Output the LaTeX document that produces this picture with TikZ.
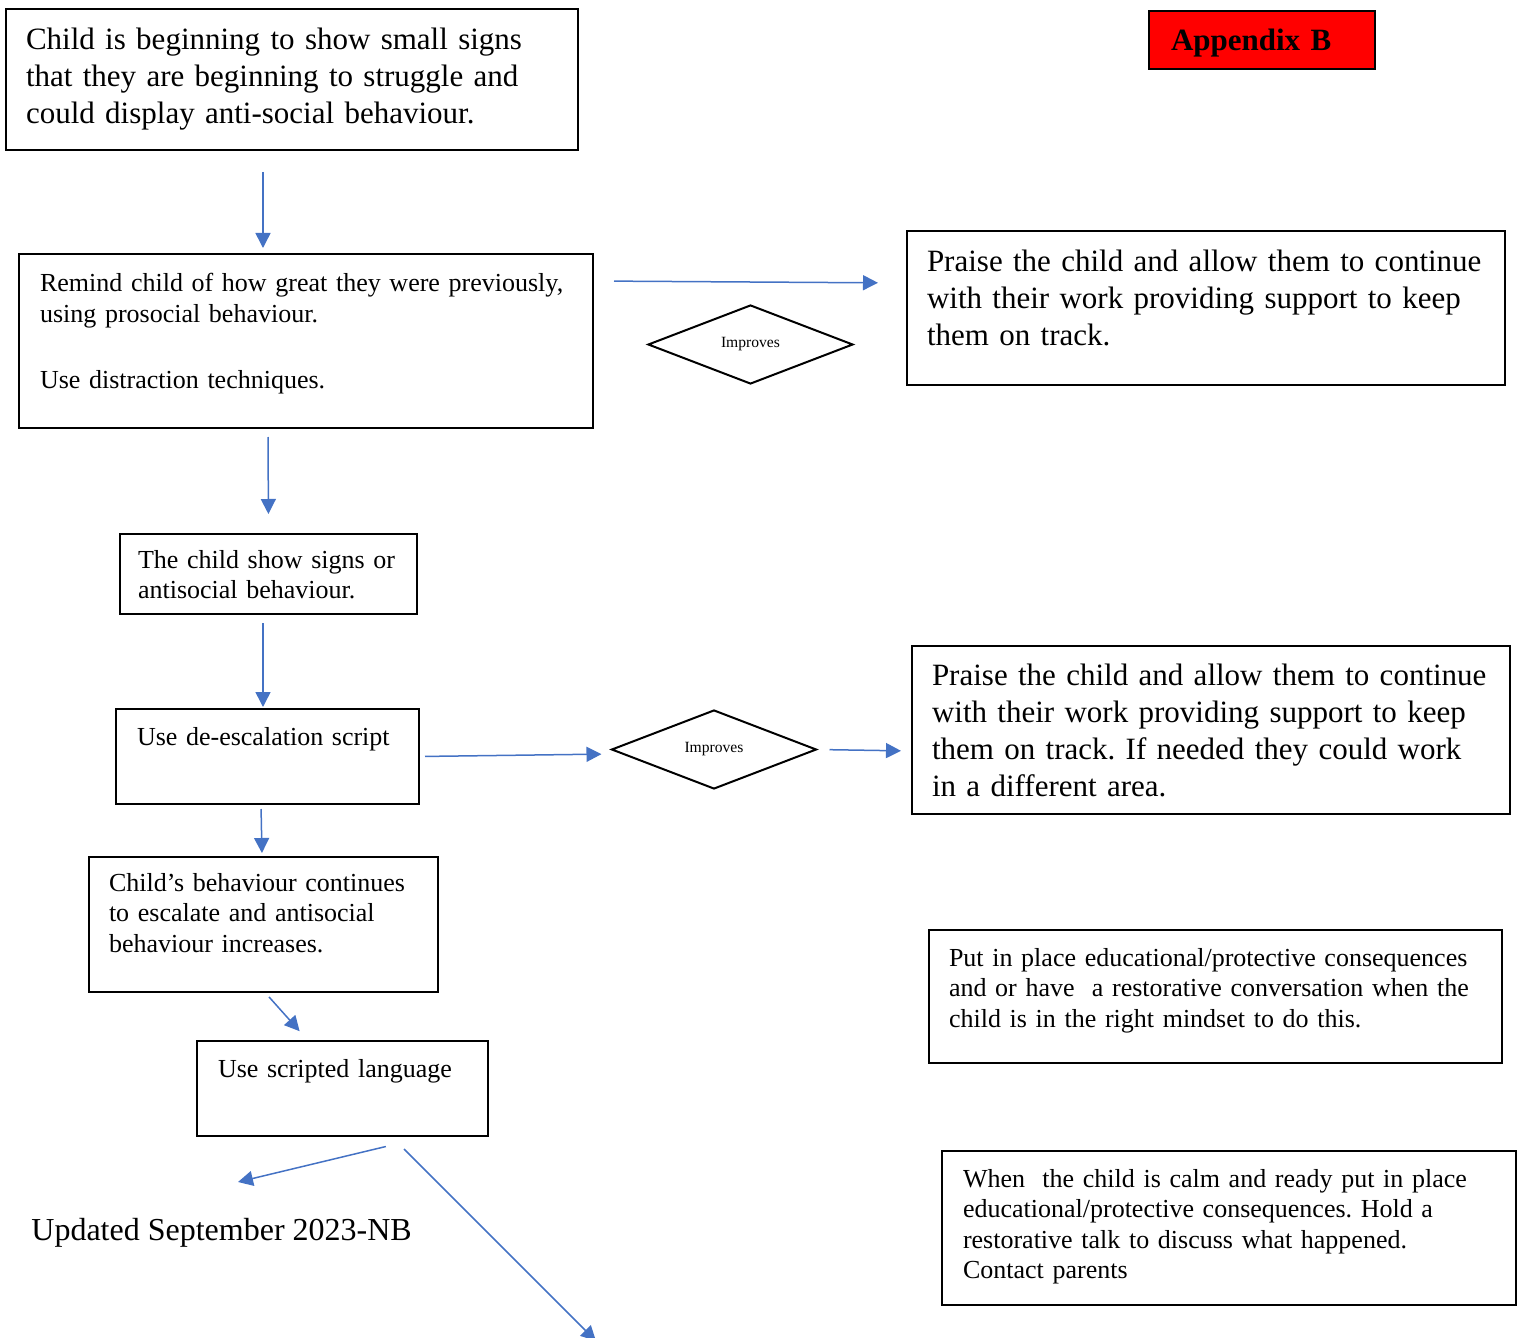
\documentclass[tikz,border=0pt]{standalone}
\usepackage{fontspec}
\setmainfont{Liberation Serif}
\usetikzlibrary{arrows.meta,shapes.geometric}
\definecolor{arrowblue}{HTML}{4472C4}
\definecolor{appxred}{HTML}{FF0000}
\frenchspacing

\begin{document}
\begin{tikzpicture}[x=0.5pt, y=-0.5pt,
	box/.style={draw, line width=1pt, anchor=north west, inner ysep=0pt, align=left, execute at begin node={\hyphenpenalty=10000\exhyphenpenalty=10000}},
	bigtext/.style={font=\fontsize{15.5pt}{18.5pt}\selectfont},
	midtext/.style={font=\fontsize{13pt}{15.25pt}\selectfont},
	decision/.style={draw, diamond, line width=1pt, inner sep=0pt, minimum width=102.5pt, minimum height=39.5pt, font=\fontsize{7.8pt}{9pt}\selectfont},
	flow/.style={draw=arrowblue, line width=0.75pt, -{Triangle[length=7.5pt,width=7.5pt]}}]
	\useasboundingbox (0,0) rectangle (1517,1338);
	\node[box, bigtext, inner xsep=10pt, text width=266pt, text height=20.5pt, text depth=50pt] (start) at (5,8) {Child is beginning to show small signs\\that they are beginning to struggle and\\could display anti-social behaviour.};
	\node[box, fill=appxred, inner xsep=11pt, text width=91pt, text height=20pt, text depth=9pt, font=\fontsize{15.5pt}{18.5pt}\selectfont\bfseries] (appx) at (1148,10) {Appendix B};
	\node[box, midtext, inner xsep=10.5pt, text width=266pt, text height=19pt, text depth=68pt] (remind) at (18,253) {Remind child of how great they were previously,\\using prosocial behaviour.\\[18pt]Use distraction techniques.};
	\node[box, bigtext, inner xsep=10pt, text width=279pt, text height=20pt, text depth=57pt] (praise1) at (906,230) {Praise the child and allow them to continue\\with their work providing support to keep\\them on track.};
	\node[decision] (d1) at (750.5,344.5) {Improves};
	\node[box, midtext, inner xsep=9pt, text width=130.5pt, text height=17pt, text depth=23pt] (signs) at (119,533) {The child show signs or\\antisocial behaviour.};
	\node[box, midtext, inner xsep=10.5pt, text width=130.5pt, text height=18pt, text depth=29.5pt] (deesc) at (115,708) {Use de-escalation script};
	\node[decision] (d2) at (714,749.5) {Improves};
	\node[box, bigtext, inner xsep=10pt, text width=279pt, text height=19.5pt, text depth=64.5pt] (praise2) at (911,645) {Praise the child and allow them to continue\\with their work providing support to keep\\them on track. If needed they could work\\in a different area.};
	\node[box, midtext, inner xsep=10pt, text width=154.5pt, text height=17pt, text depth=50.5pt] (behav) at (88,856) {Child’s behaviour continues\\to escalate and antisocial\\behaviour increases.};
	\node[box, midtext, inner xsep=10pt, text width=266.5pt, text height=18pt, text depth=48.5pt] (conseq) at (928,929) {Put in place educational/protective consequences\\and or have\ \ a restorative conversation when the\\child is in the right mindset to do this.};
	\node[box, midtext, inner xsep=10.5pt, text width=124.5pt, text height=18pt, text depth=29.5pt] (scripted) at (196,1040) {Use scripted language};
	\node[box, midtext, inner xsep=10.5pt, text width=266pt, text height=18pt, text depth=59pt] (calm) at (941,1150) {When\ \ the child is calm and ready put in place\\educational/protective consequences. Hold a\\restorative talk to discuss what happened.\\Contact parents};
	\node[font=\fontsize{16pt}{18.5pt}\selectfont, anchor=base west, inner sep=0pt] (updated) at (31,1240) {Updated September 2023-NB};
	\coordinate (leftend) at (238,1182);
	\coordinate (downend) at (596,1341);
	\draw[flow, shorten <=10.5pt, shorten >=2.5pt] ([xshift=-14.5pt]start.south) -- ([xshift=-21.5pt]remind.north);
	\draw[flow, shorten <=10pt, shorten >=14pt] ([yshift=30pt]remind.east) -- ([yshift=12.5pt]praise1.west);
	\draw[flow, shorten <=4pt, shorten >=9.5pt] ([xshift=-19pt]remind.south) -- (signs.north);
	\draw[flow, shorten <=4pt, shorten >=0.5pt] ([xshift=-2.75pt]signs.south) -- ([xshift=-2.25pt]deesc.north);
	\draw[flow, shorten <=2.5pt, shorten >=4.5pt] (deesc.east) -- ([yshift=-2.25pt]d2.west);
	\draw[flow, shorten <=6pt, shorten >=5pt] (d2.east) -- ([yshift=-10.5pt]praise2.west);
	\draw[flow, shorten <=2pt, shorten >=1.5pt] ([xshift=-3.25pt]deesc.south) -- ([xshift=-0.75pt]behav.north);
	\draw[flow, shorten <=2.65pt, shorten >=5.9pt] ([xshift=1pt]behav.south) -- ([xshift=-17.5pt]scripted.north);
	\draw[flow, shorten <=20.4pt] ([xshift=41.5pt]scripted.south) -- (leftend);
	\draw[flow, shorten <=8.5pt] ([xshift=24.75pt]scripted.south) -- (downend);
\end{tikzpicture}
\end{document}
